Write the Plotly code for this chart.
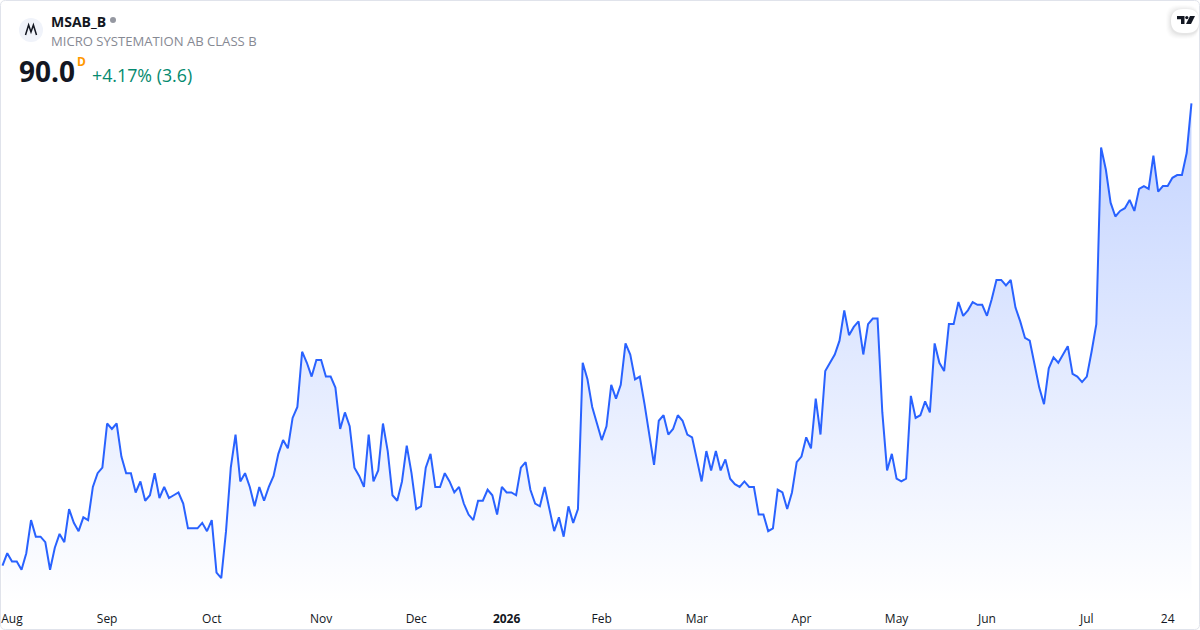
# MSAB_B mini chart, daily closes
import plotly.graph_objects as go

W, H = 1200, 630
PLOT_H = 604  # paper coords only cover the plot area, x labels sit below it
FONT = "Open Sans"

closes = [
    56.5, 57.4, 56.8, 56.8, 56.2, 57.4, 59.8, 58.6, 58.6, 58.2,
    56.2, 57.8, 58.8, 58.2, 60.6, 59.6, 59.0, 60.0, 59.8, 62.2,
    63.2, 63.6, 66.8, 66.4, 66.8, 64.4, 63.2, 63.2, 61.8, 62.6,
    61.2, 61.6, 63.2, 61.4, 62.2, 61.4, 61.6, 61.8, 61.0, 59.2,
    59.2, 59.2, 59.6, 59.0, 59.8, 56.0, 55.6, 59.0, 63.6, 66.0,
    62.6, 63.2, 62.2, 60.8, 62.2, 61.2, 62.2, 63.0, 64.6, 65.6,
    65.0, 67.2, 68.0, 72.0, 71.2, 70.2, 71.4, 71.4, 70.2, 70.2,
    69.4, 66.4, 67.6, 66.6, 63.6, 63.0, 62.2, 66.0, 62.6, 63.4,
    66.8, 64.8, 61.6, 61.2, 62.6, 65.2, 63.2, 60.6, 60.8, 63.6,
    64.6, 62.2, 62.2, 63.2, 62.6, 61.8, 62.2, 61.0, 60.2, 59.8,
    61.2, 61.2, 62.0, 61.6, 60.2, 62.2, 61.8, 61.8, 61.6, 63.6,
    64.0, 62.0, 61.0, 60.8, 62.2, 60.6, 59.0, 60.0, 58.6, 60.8,
    59.6, 60.6, 71.2, 70.0, 68.0, 66.8, 65.6, 66.6, 69.6, 68.6,
    69.6, 72.6, 71.8, 70.0, 70.2, 68.2, 66.1, 63.8, 67.0, 67.4,
    66.0, 66.4, 67.4, 67.0, 66.0, 65.8, 64.2, 62.6, 64.8, 63.4,
    64.8, 63.4, 64.2, 62.8, 62.4, 62.2, 62.6, 62.2, 62.2, 60.2,
    60.2, 59.0, 59.2, 62.0, 61.8, 60.6, 61.8, 64.0, 64.4, 65.8,
    65.0, 68.6, 66.0, 70.6, 71.2, 71.8, 72.8, 75.0, 73.2, 73.8,
    74.2, 71.8, 74.0, 74.4, 74.4, 67.6, 63.4, 64.6, 62.8, 62.6,
    62.8, 68.8, 67.2, 67.4, 68.4, 67.6, 72.6, 71.2, 70.6, 74.0,
    74.0, 75.6, 74.6, 75.0, 75.6, 75.4, 75.4, 74.6, 75.8, 77.2,
    77.2, 76.8, 77.2, 75.2, 74.2, 73.0, 72.8, 71.0, 69.4, 68.2,
    70.8, 71.6, 71.2, 71.8, 72.4, 70.4, 70.2, 69.8, 70.2, 72.0,
    74.0, 86.8, 85.2, 82.8, 81.8, 82.2, 82.4, 83.0, 82.2, 83.8,
    84.0, 83.8, 86.2, 83.6, 84.0, 84.0, 84.6, 84.8, 84.8, 86.4,
    90.0,
]
sessions = list(range(len(closes)))

tick_sessions = [2, 22, 44, 67, 87, 106, 126, 146, 168, 188, 207, 228, 245]
tick_labels = ["Aug", "Sep", "Oct", "Nov", "Dec", "<b>2026</b>", "Feb", "Mar",
               "Apr", "May", "Jun", "Jul", "24"]

Y_TOP, Y_BOTTOM = 97.486, 53.72


def px(x):
    return x / W


def py(y):
    return 1 - y / PLOT_H


def rect_path(x0, y0, x1, y1, r):
    return (f"M{px(x0 + r)},{py(y0)} L{px(x1 - r)},{py(y0)} "
            f"Q{px(x1)},{py(y0)} {px(x1)},{py(y0 + r)} "
            f"L{px(x1)},{py(y1 - r)} Q{px(x1)},{py(y1)} {px(x1 - r)},{py(y1)} "
            f"L{px(x0 + r)},{py(y1)} Q{px(x0)},{py(y1)} {px(x0)},{py(y1 - r)} "
            f"L{px(x0)},{py(y0 + r)} Q{px(x0)},{py(y0)} {px(x0 + r)},{py(y0)} Z")


def poly_path(points, close=True):
    p = "M" + " L".join(f"{px(x)},{py(y)}" for x, y in points)
    return p + " Z" if close else p


shapes = [
    # symbol badge
    dict(type="circle", xref="paper", yref="paper", x0=px(19), x1=px(43), y0=py(42), y1=py(18),
         fillcolor="#f0f3fa", line=dict(width=0)),
    dict(type="path", xref="paper", yref="paper", fillcolor="rgba(0,0,0,0)",
         path=poly_path([(25.5, 35), (28.6, 25), (31, 32), (33.4, 25), (36.5, 35)], close=False),
         line=dict(color="#131722", width=1.5)),
    dict(type="circle", xref="paper", yref="paper", x0=px(110), x1=px(116), y0=py(23), y1=py(17),
         fillcolor="#9598a1", line=dict(width=0)),
]
# soft shadow of the logo tab
for grow, alpha in [(5, 0.012), (4, 0.015), (3, 0.02), (2, 0.025), (1, 0.03)]:
    shapes.append(dict(type="path", xref="paper", yref="paper", layer="above",
                       path=rect_path(1171 - grow, 9 - grow + 1, 1199, 33 + grow + 1, 12),
                       fillcolor=f"rgba(0,0,0,{alpha})", line=dict(width=0)))
shapes += [
    dict(type="path", xref="paper", yref="paper", layer="above", path=rect_path(1171, 9, 1199, 33, 12),
         fillcolor="#ffffff", line=dict(width=0)),
    # TradingView mark
    dict(type="path", xref="paper", yref="paper", layer="above",
         path=poly_path([(1177, 16), (1184.5, 16), (1184.5, 24), (1181, 24), (1181, 19.2), (1177, 19.2)]),
         fillcolor="#131722", line=dict(width=0)),
    dict(type="circle", xref="paper", yref="paper", layer="above",
         x0=px(1185.2), x1=px(1188.4), y0=py(19.2), y1=py(16), fillcolor="#131722", line=dict(width=0)),
    dict(type="path", xref="paper", yref="paper", layer="above",
         path=poly_path([(1190, 16), (1195, 16), (1191, 24), (1186, 24)]),
         fillcolor="#131722", line=dict(width=0)),
    # card border
    dict(type="path", xref="paper", yref="paper", path=rect_path(0.5, 0.5, 1199.5, 629.5, 5),
         line=dict(color="#e0e3eb", width=1), fillcolor="rgba(0,0,0,0)", layer="above"),
]


def label(x, y, text, size, color, anchor="left"):
    return dict(xref="paper", yref="paper", x=px(x), y=py(y), text=text, showarrow=False,
                xanchor=anchor, yanchor="middle", align="left", borderpad=0, xshift=-1,
                font=dict(family=FONT, size=size, color=color))


annotations = [
    label(51, 21, "<b>MSAB_B</b>", 14, "#131722"),
    label(51, 41, "MICRO SYSTEMATION AB CLASS B", 13.1, "#868993"),
    label(19, 71, "<b>90.0</b>", 28, "#131722"),
    label(77, 61, "<b>D</b>", 12, "#ff9800"),
    label(92, 75, "+4.17% (3.6)", 17.8, "#058a6f"),
]

fig = go.Figure(go.Scatter(
    x=sessions, y=closes, mode="lines",
    line=dict(color="#2962ff", width=2, shape="linear"),
    fill="tozeroy",
    fillgradient=dict(type="vertical", start=Y_BOTTOM, stop=90.0,
                      colorscale=[[0, "rgba(41,98,255,0)"], [1, "rgba(41,98,255,0.28)"]]),
    hoverinfo="skip",
))

fig.update_layout(
    width=W, height=H,
    margin=dict(l=0, r=0, t=0, b=H - PLOT_H),
    paper_bgcolor="#ffffff", plot_bgcolor="#ffffff",
    showlegend=False,
    shapes=shapes, annotations=annotations,
    xaxis=dict(range=[-0.526, 251.8], tickmode="array", tickvals=tick_sessions, ticktext=tick_labels,
               showgrid=False, zeroline=False, showline=False, ticks="", ticklen=0, ticklabelstandoff=6,
               tickfont=dict(family=FONT, size=12, color="#131722")),
    yaxis=dict(range=[Y_BOTTOM, Y_TOP], visible=False, showgrid=False, zeroline=False),
)

# page has a default body margin, drop it so the card sits at 0,0
fig.write_html("out.html", config=dict(displayModeBar=False),
               post_script="document.body.style.margin='0';document.body.style.overflow='hidden';")
